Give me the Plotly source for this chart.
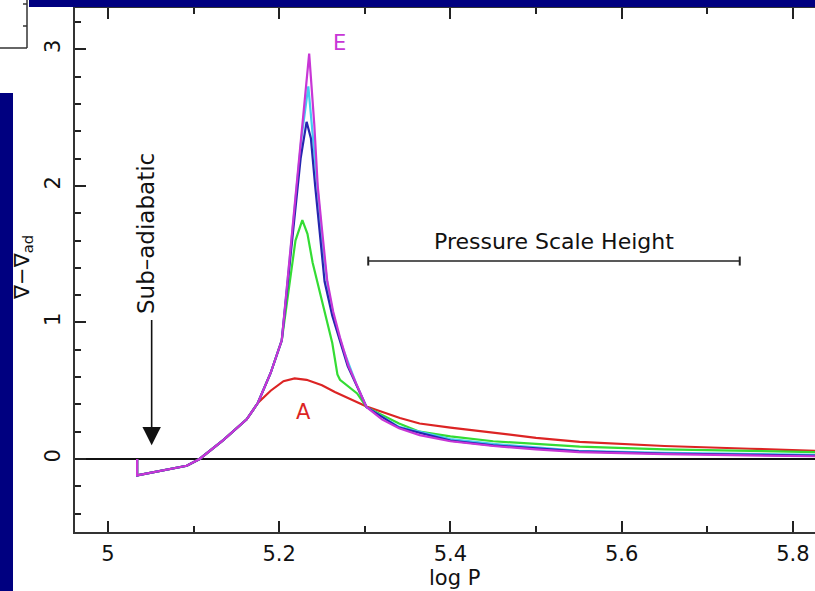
import plotly.graph_objects as go

# log P grid and superadiabatic gradient (nabla - nabla_ad) for each model
rise_logp = [5.034, 5.034, 5.092, 5.107, 5.135, 5.162]
rise_val = [0.0, -0.12, -0.05, 0.0, 0.14, 0.29]

logp_A = rise_logp + [5.175, 5.190, 5.205, 5.218, 5.232, 5.250, 5.265, 5.283, 5.302,
                      5.341, 5.364, 5.400, 5.450, 5.500, 5.551, 5.650, 5.750, 5.826]
grad_A = rise_val + [0.41, 0.50, 0.57, 0.59, 0.58, 0.54, 0.49, 0.44, 0.385,
                     0.30, 0.26, 0.23, 0.19, 0.155, 0.125, 0.095, 0.075, 0.06]

logp_B = rise_logp + [5.175, 5.190, 5.203, 5.212, 5.219, 5.227, 5.233, 5.239, 5.251,
                      5.262, 5.268, 5.271, 5.291, 5.302, 5.340, 5.364, 5.400, 5.450,
                      5.500, 5.551, 5.650, 5.750, 5.826]
grad_B = rise_val + [0.41, 0.63, 0.87, 1.30, 1.60, 1.75, 1.65, 1.44, 1.14,
                     0.85, 0.62, 0.58, 0.48, 0.38, 0.26, 0.20, 0.165, 0.13,
                     0.11, 0.09, 0.07, 0.058, 0.05]

logp_C = rise_logp + [5.175, 5.190, 5.203, 5.215, 5.226, 5.234, 5.239, 5.245, 5.251,
                      5.257, 5.265, 5.275, 5.290, 5.302, 5.340, 5.400, 5.450, 5.550,
                      5.650, 5.826]
grad_C = rise_val + [0.41, 0.63, 0.87, 1.65, 2.35, 2.73, 2.40, 1.95, 1.55,
                     1.25, 1.00, 0.80, 0.55, 0.38, 0.235, 0.145, 0.11, 0.06,
                     0.045, 0.03]

logp_D = rise_logp + [5.175, 5.190, 5.203, 5.215, 5.225, 5.232, 5.237, 5.242, 5.248,
                      5.253, 5.262, 5.270, 5.280, 5.291, 5.302, 5.340, 5.400, 5.450,
                      5.550, 5.650, 5.826]
grad_D = rise_val + [0.41, 0.63, 0.87, 1.62, 2.20, 2.47, 2.35, 2.00, 1.60,
                     1.30, 1.05, 0.88, 0.68, 0.53, 0.38, 0.23, 0.135, 0.10,
                     0.055, 0.04, 0.025]

logp_E = rise_logp + [5.175, 5.190, 5.203, 5.215, 5.226, 5.235, 5.241, 5.245, 5.250,
                      5.256, 5.263, 5.271, 5.281, 5.291, 5.297, 5.302, 5.320, 5.340,
                      5.364, 5.400, 5.450, 5.500, 5.550, 5.650, 5.750, 5.826]
grad_E = rise_val + [0.41, 0.63, 0.87, 1.65, 2.40, 2.97, 2.45, 2.00, 1.68,
                     1.31, 1.08, 0.89, 0.68, 0.53, 0.45, 0.38, 0.29, 0.225,
                     0.175, 0.13, 0.095, 0.07, 0.05, 0.035, 0.025, 0.02]

models = [
    ("A", logp_A, grad_A, "#dc2424"),
    ("B", logp_B, grad_B, "#34dc34"),
    ("C", logp_C, grad_C, "#44ccf0"),
    ("D", logp_D, grad_D, "#2626b0"),
    ("E", logp_E, grad_E, "#c836d6"),
]

# annotation anchors
arrow_logp = 5.051
arrow_top, arrow_tip = 1.03, 0.10
scale_height_logp = [5.304, 5.738]
scale_height_level = 1.45

x_range = [4.96145, 5.8259]
y_range = [-0.535, 3.304]

FONT = "DejaVu Sans, Verdana, sans-serif"
NAVY = "#000080"
INK = "#111111"

fig = go.Figure()
for name, xs, ys, col in models:
    fig.add_trace(go.Scatter(x=xs, y=ys, mode="lines", name=name,
                             line=dict(color=col, width=2.2), showlegend=False))

# plot-area pixel helpers (plot spans x 75..815, y 8..532)
def px(x):
    return (x - 75) / 740.0

def py(y):
    return (532 - y) / 524.0

shapes = [
    # slide background strips
    dict(type="rect", xref="paper", yref="paper", x0=px(29), x1=1.02, y0=py(7), y1=py(-2),
         fillcolor=NAVY, line=dict(width=0), layer="above"),
    dict(type="rect", xref="paper", yref="paper", x0=px(-2), x1=px(13), y0=py(593), y1=py(93),
         fillcolor=NAVY, line=dict(width=0), layer="above"),
    # corner of neighbouring panel
    dict(type="line", xref="paper", yref="paper", x0=px(27), x1=px(27), y0=py(48), y1=py(-2),
         line=dict(color="#333", width=1.5)),
    dict(type="line", xref="paper", yref="paper", x0=px(-2), x1=px(27), y0=py(48), y1=py(48),
         line=dict(color="#333", width=1.5)),
    dict(type="line", xref="paper", yref="paper", x0=px(23), x1=px(27), y0=py(4), y1=py(4),
         line=dict(color="#333", width=1.5)),
    dict(type="line", xref="paper", yref="paper", x0=px(23), x1=px(27), y0=py(26), y1=py(26),
         line=dict(color="#333", width=1.5)),
    # pressure scale height bar
    dict(type="line", xref="x", yref="y", x0=scale_height_logp[0], x1=scale_height_logp[1],
         y0=scale_height_level, y1=scale_height_level, line=dict(color="#222", width=1.6)),
    dict(type="line", xref="x", yref="y", x0=scale_height_logp[0], x1=scale_height_logp[0],
         y0=scale_height_level - 0.033, y1=scale_height_level + 0.033,
         line=dict(color="#222", width=2)),
    dict(type="line", xref="x", yref="y", x0=scale_height_logp[1], x1=scale_height_logp[1],
         y0=scale_height_level - 0.033, y1=scale_height_level + 0.033,
         line=dict(color="#222", width=2)),
]

def label(text, x, y, size=21, color=INK, angle=0, xref="paper", yref="paper"):
    return dict(x=x, y=y, xref=xref, yref=yref, text=text, showarrow=False,
                textangle=angle, xanchor="center", yanchor="middle",
                font=dict(family=FONT, size=size, color=color))

annotations = [
    dict(x=arrow_logp, y=arrow_tip, ax=arrow_logp, ay=arrow_top, xref="x", yref="y",
         axref="x", ayref="y", text="", showarrow=True, arrowhead=2, arrowsize=2.3,
         arrowwidth=1.6, arrowcolor=INK),
    label("Sub\u2013adiabatic", px(146), py(234), size=23, angle=-90),
    label("Pressure Scale Height", (scale_height_logp[0] + scale_height_logp[1]) / 2,
          1.597, size=22, xref="x", yref="y"),
    label("E", px(339), py(43), color="#c836d6"),
    label("A", px(303), py(412), color="#dc2424"),
    label("log P", px(454), py(578)),
    label("\u2207\u2212\u2207<sub>ad</sub>", px(23), py(268), angle=-90),
]

fig.update_layout(
    width=815, height=591,
    margin=dict(l=75, r=0, t=8, b=59),
    paper_bgcolor="white", plot_bgcolor="white",
    shapes=shapes, annotations=annotations,
    font=dict(family=FONT, size=21, color=INK),
    xaxis=dict(range=x_range, tickvals=[5.0, 5.2, 5.4, 5.6, 5.8],
               ticktext=["5", "5.2", "5.4", "5.6", "5.8"],
               ticks="inside", ticklen=11, tickwidth=1.8, tickcolor="#222",
               ticklabelstandoff=2,
               minor=dict(tickvals=[5.1, 5.3, 5.5, 5.7], ticks="inside", ticklen=6,
                          tickwidth=1.5, tickcolor="#222"),
               showline=True, linecolor="#333", linewidth=2, mirror="ticks",
               showgrid=False, zeroline=False, tickfont=dict(size=21)),
    yaxis=dict(range=y_range, tickvals=[0, 1, 2, 3], tickangle=-90,
               ticks="inside", ticklen=11, tickwidth=1.8, tickcolor="#222",
               ticklabelstandoff=5,
               minor=dict(dtick=0.2, tick0=0, ticks="inside", ticklen=6,
                          tickwidth=1.5, tickcolor="#222"),
               showline=True, linecolor="#333", linewidth=2, mirror=False,
               showgrid=False, zeroline=True, zerolinecolor=INK, zerolinewidth=1.6,
               tickfont=dict(size=21)),
)

fig.write_html("out.html")
